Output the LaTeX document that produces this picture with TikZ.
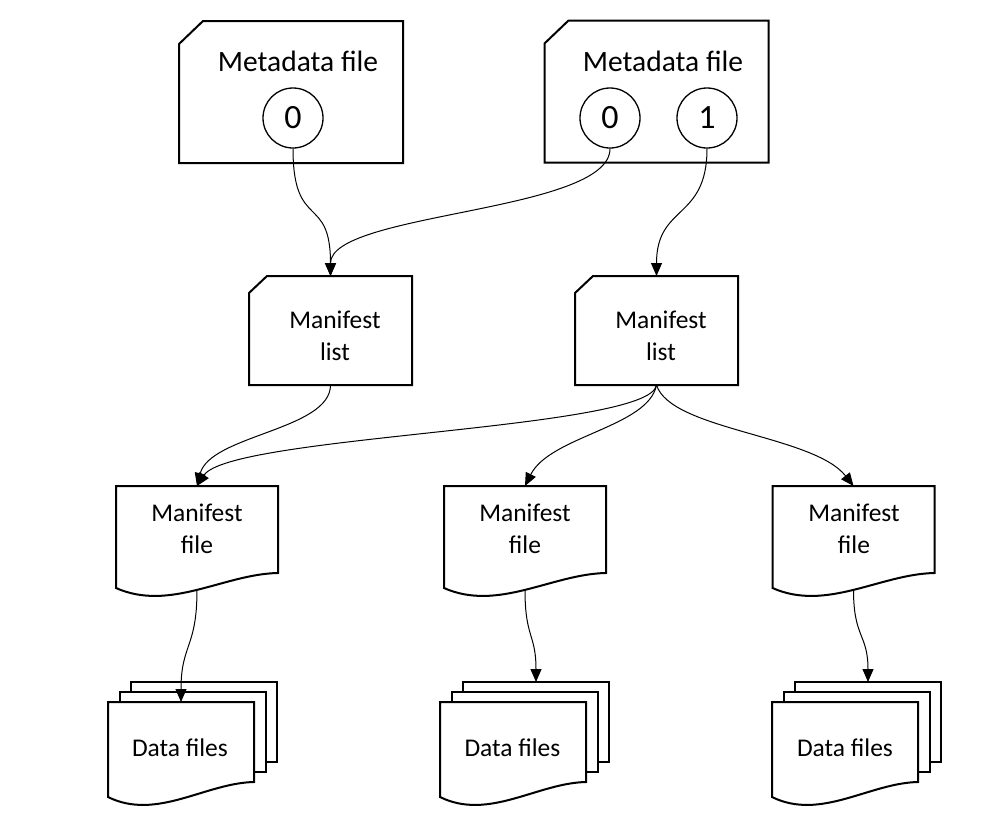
\documentclass[tikz,border=0pt]{standalone}
\usepackage{fontspec}
\setmainfont{Carlito}
\usetikzlibrary{arrows.meta, calc}

\newcommand{\titlefont}{\fontsize{29.5}{32}\selectfont}
\newcommand{\boxfont}{\fontsize{25.5}{32}\selectfont}
\newcommand{\digitfont}{\fontsize{34}{36}\selectfont}

% file outline with a cut top left corner, drawn round a node
\newcommand{\cutbox}[3]{%
  \draw[box] ($(#1.north west)+(#2,0)$) -- (#1.north east) -- (#1.south east)
    -- (#1.south west) -- ($(#1.north west)+(0,-#3)$) -- cycle;}

% document outline with a wavy bottom, drawn round a node
\newcommand{\docwave}[1]{%
  \draw[box,fill=white] (#1.north west) -- (#1.north east) -- (#1.south east)
    .. controls ($(#1.south west)!2/3!(#1.south east)+(0,-1)$) and ($(#1.south west)!1/3!(#1.south east)+(0,-39)$) .. ($(#1.south west)+(0,-15)$) -- cycle;
  \coordinate (#1-b) at ($(#1.south)+(0,-17)$);}

\begin{document}
\begin{tikzpicture}[x=1pt,y=1pt,
    box/.style={line width=2pt},
    mdfile/.style={inner sep=0pt,outer sep=0pt,minimum width=224pt,minimum height=142pt},
    mlist/.style={inner sep=0pt,outer sep=0pt,minimum width=163pt,minimum height=109pt},
    mfile/.style={inner sep=0pt,outer sep=0pt,minimum width=162pt,minimum height=87pt},
    sheet/.style={inner sep=0pt,outer sep=0pt,minimum width=146pt,minimum height=80pt},
    backsheet/.style={sheet,box,draw,fill=white},
    snap/.style={draw,circle,line width=1.3pt,minimum size=60pt,inner sep=0pt,font=\digitfont},
    txt/.style={anchor=base,align=center,inner sep=0pt,font=\boxfont},
    link/.style={line width=1pt,-{Triangle[length=13pt,width=11pt]}}
  ]
    \useasboundingbox (0,0) rectangle (1004,-838);

    % Metadata files
    \node[mdfile] (mdA) at (291,-92) {};
    \cutbox{mdA}{24}{23}
    \node[txt,font=\titlefont] (mdAt) at (298,-71) {Metadata file};
    \node[snap] (sA0) at (293,-118) {0};

    \node[mdfile] (mdB) at (656.5,-91.5) {};
    \cutbox{mdB}{24}{23}
    \node[txt,font=\titlefont] (mdBt) at (663,-71) {Metadata file};
    \node[snap] (sB0) at (610,-118) {0};
    \node[snap] (sB1) at (707,-118) {1};

    % Manifest lists
    \node[mlist] (mlA) at (330.5,-330.5) {};
    \cutbox{mlA}{18}{17}
    \node[txt] (mlAt) at (335,-360) {Manifest\\list};
    \node[mlist] (mlB) at (656.5,-330.5) {};
    \cutbox{mlB}{18}{17}
    \node[txt] (mlBt) at (661,-360) {Manifest\\list};

    % Manifest files
    \node[mfile] (mfA) at (197,-529.5) {};
    \docwave{mfA}
    \node[txt] (mfAt) at (197,-553.5) {Manifest\\file};
    \node[mfile] (mfB) at (525,-529.5) {};
    \docwave{mfB}
    \node[txt] (mfBt) at (525,-553.5) {Manifest\\file};
    \node[mfile] (mfC) at (853.5,-529.5) {};
    \docwave{mfC}
    \node[txt] (mfCt) at (854,-553.5) {Manifest\\file};

    % Data files
    \node[backsheet] (dfA3) at (204,-722) {};
    \node[backsheet] (dfA2) at (192.5,-732) {};
    \node[sheet] (dfA1) at (181,-742) {};
    \docwave{dfA1}
    \node[txt] (dfAt) at (180,-756.5) {Data files};

    \node[backsheet] (dfB3) at (536,-722) {};
    \node[backsheet] (dfB2) at (524.5,-732) {};
    \node[sheet] (dfB1) at (513,-742) {};
    \docwave{dfB1}
    \node[txt] (dfBt) at (512.5,-756.5) {Data files};

    \node[backsheet] (dfC3) at (868,-722) {};
    \node[backsheet] (dfC2) at (856.5,-732) {};
    \node[sheet] (dfC1) at (845,-742) {};
    \docwave{dfC1}
    \node[txt] (dfCt) at (845,-756.5) {Data files};

    % Links
    \draw[link] (sA0.south) .. controls +(0,-83) and +(0,83) .. (mlA.north);
    \draw[link] (sB0.south) .. controls +(0,-64) and +(0,64) .. (mlA.north);
    \draw[link] (sB1.south) .. controls +(0,-72) and +(0,72) .. (mlB.north);

    \draw[link] (mlA.south) .. controls +(0,-45) and +(13,51) .. (mfA.north);
    \draw[link] (mlB.south) .. controls +(-6,-45) and +(33,51) .. (mfA.north);
    \draw[link] (mlB.south) .. controls +(-8,-42) and +(25,50) .. (mfB.north);
    \draw[link] (mlB.south) .. controls +(14,-45) and +(-40,51) .. (mfC.north);

    \draw[link] (mfA-b) .. controls +(0,-58) and +(0,58) .. (dfA1.north);
    \draw[link] (mfB-b) .. controls +(0,-48) and +(0,48) .. (dfB3.north);
    \draw[link] (mfC-b) .. controls +(0,-48) and +(0,48) .. (dfC3.north);
\end{tikzpicture}
\end{document}
